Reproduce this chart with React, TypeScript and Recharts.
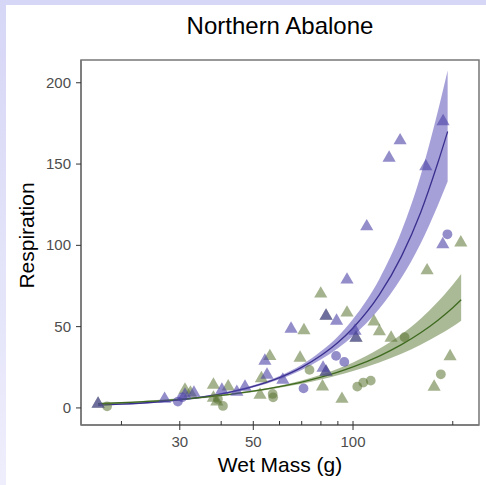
import React from 'react';
import { ComposedChart, XAxis, YAxis, ZAxis, Scatter, Line, Area, ReferenceArea, Label } from 'recharts';

const FONT = '"Liberation Sans", Arial, Helvetica, sans-serif';

// Axis settings
const xDomain = [15.1, 240];
const yDomain = [-10.5, 214];
const xTicks = [20, 30, 40, 50, 60, 70, 80, 90, 100, 200];
const xMajor = [30, 50, 100];
const yTicks = [0, 50, 100, 150, 200];

// Observations: purple triangles
const purpleTriMass = [17.0, 27.0, 31.1, 33.1, 40.2, 44.6, 47.2, 54.2, 55.0, 61.4, 65.0, 81.2, 82.9, 82.9, 89.2, 95.9, 101.4, 102.1, 110, 128.5, 138.7, 165.8, 187, 186.6];
const purpleTriResp = [2.5, 5.5, 8.0, 9.2, 11.1, 9.8, 12.9, 28.9, 20.3, 17.2, 48.6, 24.6, 22.2, 56.6, 53.5, 78.8, 47.4, 43.1, 111.6, 153.8, 164.5, 148.5, 176.2, 100.6];
// purple circles
const purpleCircMass = [29.6, 30.5, 70.9, 88.9, 94.1, 192.7];
const purpleCircResp = [3.9, 6.5, 12.0, 32.0, 28.3, 106.8];
// green triangles
const greenTriMass = [17.0, 31.1, 32.3, 37.9, 37.9, 38.8, 42.0, 52.4, 52.9, 56.1, 69.2, 71.1, 79.9, 80.9, 82.9, 82.9, 92.6, 95.9, 102.1, 115.7, 120.1, 130.3, 167.3, 175.7, 196.3, 211.5];
const greenTriResp = [2.5, 11.1, 9.2, 14.2, 6.2, 3.9, 13.1, 8.0, 18.2, 31.8, 30.8, 47.7, 70.2, 13.1, 56.6, 22.2, 5.5, 58.5, 43.1, 53.1, 47.0, 43.1, 84.5, 12.9, 31.7, 101.7];
// green circles
const greenCircMass = [18.1, 39.1, 40.5, 57.2, 57.4, 73.9, 103.0, 107.4, 113.1, 143.1, 184.1];
const greenCircResp = [1.0, 5.5, 1.2, 8.6, 6.5, 23.4, 13.1, 15.6, 16.8, 43.5, 20.7];

// Fitted curves with confidence ribbons
const fitMassP = [17, 20, 25, 30, 40, 50, 60, 70, 80, 90, 100, 120, 140, 160, 180, 193];
const purpleFit = [1.7, 2.3, 3.5, 5.0, 8.6, 13.2, 18.6, 24.9, 32.2, 40.2, 49.2, 69.5, 93.2, 120.2, 150.3, 170.0];
const purpleLo = [1.4, 1.95, 3.1, 4.5, 8.0, 12.5, 17.7, 23.4, 29.8, 36.7, 44.3, 61.0, 80.0, 101.1, 124.2, 139.2];
const purpleHi = [2.0, 2.7, 4.0, 5.5, 9.2, 13.9, 19.6, 26.5, 34.8, 44.0, 54.7, 79.2, 108.6, 142.9, 181.8, 207.6];

const fitMassG = [17, 20, 25, 30, 40, 50, 60, 70, 80, 90, 100, 120, 140, 160, 180, 200, 212];
const greenFit = [2.6, 3.2, 4.2, 5.3, 7.7, 10.3, 13.1, 15.9, 18.9, 22.0, 25.2, 31.9, 38.9, 46.2, 53.8, 61.6, 66.5];
const greenLo = [2.1, 2.7, 3.7, 4.8, 7.2, 9.8, 12.4, 14.9, 17.5, 20.1, 22.7, 28.0, 33.4, 38.9, 44.5, 50.1, 53.6];
const greenHi = [3.1, 3.7, 4.8, 5.9, 8.3, 10.9, 13.7, 16.9, 20.4, 24.1, 28.0, 36.4, 45.3, 54.9, 65.1, 75.7, 82.4];

const zip = (ms: number[], rs: number[]) => ms.map((m, i) => ({ m, r: rs[i] }));
const purpleTri = zip(purpleTriMass, purpleTriResp);
const purpleCirc = zip(purpleCircMass, purpleCircResp);
const greenTri = zip(greenTriMass, greenTriResp);
const greenCirc = zip(greenCircMass, greenCircResp);
const purpleBand = fitMassP.map((m, i) => ({ m, fit: purpleFit[i], band: [purpleLo[i], purpleHi[i]] }));
const greenBand = fitMassG.map((m, i) => ({ m, fit: greenFit[i], band: [greenLo[i], greenHi[i]] }));

const PURPLE_PT = 'rgba(75,65,165,0.6)';
const GREEN_PT = 'rgba(90,115,50,0.55)';
const PURPLE_RIB = 'rgba(75,65,175,0.5)';
const GREEN_RIB = 'rgba(85,115,45,0.5)';
const PURPLE_LINE = '#3b2f8f';
const GREEN_LINE = '#3d6a1e';
const AXIS = '#777777';

const XTick = (props: any) => {
  const { x, y, payload } = props;
  const major = xMajor.includes(payload.value);
  return (
    <g>
      <line x1={x} x2={x} y1={y - 4} y2={major ? y + 5 : y} stroke="#333" strokeWidth={1} />
      {major && (
        <text x={x} y={y + 22} textAnchor="middle" fontSize={15} fill="#4d4d4d" fontFamily={FONT}>
          {payload.value}
        </text>
      )}
    </g>
  );
};

const YTick = (props: any) => {
  const { x, y, payload } = props;
  return (
    <g>
      <line x1={x - 5} x2={x} y1={y} y2={y} stroke="#333" strokeWidth={1} />
      <text x={x - 10} y={y + 5} textAnchor="end" fontSize={15} fill="#4d4d4d" fontFamily={FONT}>
        {payload.value}
      </text>
    </g>
  );
};

const XTitle = (props: any) => {
  const vb = props.viewBox;
  return (
    <text x={vb.x + vb.width / 2} y={vb.y + 47} textAnchor="middle" fontSize={21} fill="#000" fontFamily={FONT}>
      Wet Mass (g)
    </text>
  );
};

const YTitle = (props: any) => {
  const vb = props.viewBox;
  const cx = vb.x + vb.width - 47;
  const cy = vb.y + vb.height / 2 - 7;
  return (
    <text x={cx} y={cy} transform={`rotate(-90 ${cx} ${cy})`} textAnchor="middle" fontSize={21} fill="#000" fontFamily={FONT}>
      Respiration
    </text>
  );
};

export default function App() {
  return (
    <div style={{ position: 'absolute', left: 0, top: 0, width: 486, height: 485, background: 'linear-gradient(to bottom, #d6d6f6, #eeeefc)', overflow: 'hidden' }}>
      <div style={{ position: 'absolute', left: 6, top: 5, width: 480, height: 480, background: '#ffffff' }} />
      <div style={{ position: 'absolute', left: 0, top: 12, width: 560, textAlign: 'center', fontFamily: FONT, fontSize: 24, lineHeight: '27px', color: '#000' }}>
        Northern Abalone
      </div>
      <div style={{ position: 'absolute', left: 0, top: 0 }}>
        <ComposedChart width={486} height={485} margin={{ top: 60, right: 7, bottom: 0, left: 31 }}>
          <XAxis
            dataKey="m"
            type="number"
            scale="log"
            domain={xDomain}
            allowDataOverflow
            ticks={xTicks}
            interval={0}
            tick={<XTick />}
            tickLine={false}
            tickSize={0}
            tickMargin={0}
            height={60}
            axisLine={{ stroke: AXIS, strokeWidth: 1.5 }}
          >
            <Label content={<XTitle />} />
          </XAxis>
          <YAxis
            type="number"
            domain={yDomain}
            allowDataOverflow
            ticks={yTicks}
            interval={0}
            tick={<YTick />}
            tickLine={false}
            tickSize={0}
            tickMargin={0}
            width={50}
            axisLine={{ stroke: AXIS, strokeWidth: 1.5 }}
          >
            <Label content={<YTitle />} />
          </YAxis>
          <ZAxis type="number" range={[75, 75]} />
          <ReferenceArea x1={xDomain[0]} x2={xDomain[1]} y1={yDomain[0]} y2={yDomain[1]} fill="none" stroke={AXIS} strokeWidth={1.5} ifOverflow="visible" />
          <Area data={purpleBand} dataKey="band" type="monotone" fill={PURPLE_RIB} fillOpacity={1} stroke="none" isAnimationActive={false} />
          <Area data={greenBand} dataKey="band" type="monotone" fill={GREEN_RIB} fillOpacity={1} stroke="none" isAnimationActive={false} />
          <Scatter data={greenCirc} dataKey="r" shape="circle" fill={GREEN_PT} isAnimationActive={false} />
          <Scatter data={greenTri} dataKey="r" shape="triangle" fill={GREEN_PT} isAnimationActive={false} />
          <Scatter data={purpleCirc} dataKey="r" shape="circle" fill={PURPLE_PT} isAnimationActive={false} />
          <Scatter data={purpleTri} dataKey="r" shape="triangle" fill={PURPLE_PT} isAnimationActive={false} />
          <Line data={purpleBand} dataKey="fit" type="monotone" stroke={PURPLE_LINE} strokeWidth={1.3} dot={false} activeDot={false} isAnimationActive={false} />
          <Line data={greenBand} dataKey="fit" type="monotone" stroke={GREEN_LINE} strokeWidth={1.3} dot={false} activeDot={false} isAnimationActive={false} />
        </ComposedChart>
      </div>
    </div>
  );
}
